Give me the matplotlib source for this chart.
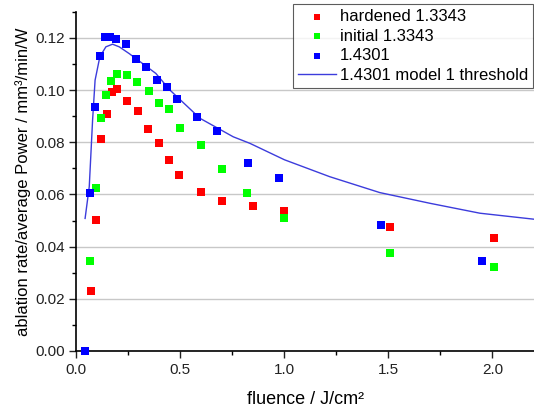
import matplotlib
matplotlib.use('Agg')
import matplotlib.pyplot as plt
from matplotlib.ticker import MultipleLocator

plt.rcParams['font.family'] = ['Liberation Sans', 'DejaVu Sans']

# hardened 1.3343
hard_x = [0.068, 0.094, 0.117, 0.145, 0.171, 0.193, 0.244, 0.296, 0.344, 0.398,
          0.446, 0.494, 0.60, 0.70, 0.85, 1.0, 1.507, 2.01]
hard_y = [0.0229, 0.0502, 0.0813, 0.0909, 0.0992, 0.1006, 0.0960, 0.0921, 0.0849, 0.0798,
          0.0732, 0.0676, 0.0609, 0.0576, 0.0556, 0.0536, 0.0476, 0.0433]

# initial 1.3343
init_x = [0.065, 0.094, 0.118, 0.142, 0.166, 0.193, 0.244, 0.292, 0.347, 0.395,
          0.446, 0.498, 0.60, 0.70, 0.818, 1.0, 1.507, 2.01]
init_y = [0.0345, 0.0623, 0.0894, 0.0982, 0.1033, 0.1061, 0.1057, 0.1031, 0.0996, 0.0950,
          0.0927, 0.0853, 0.0790, 0.0696, 0.0607, 0.0508, 0.0375, 0.0323]

# 1.4301
st_x = [0.042, 0.065, 0.089, 0.113, 0.139, 0.161, 0.19, 0.238, 0.286, 0.334,
        0.386, 0.434, 0.482, 0.581, 0.677, 0.825, 0.975, 1.464, 1.95]
st_y = [0.0, 0.0607, 0.0935, 0.1131, 0.1202, 0.1204, 0.1195, 0.1176, 0.1120, 0.1089,
        0.1038, 0.1013, 0.0964, 0.0895, 0.0842, 0.0719, 0.0662, 0.0483, 0.0345]

# 1.4301 model 1 threshold
mod_x = [0.042, 0.062, 0.07, 0.078, 0.09, 0.113, 0.142, 0.174, 0.206, 0.254, 0.318,
         0.382, 0.45, 0.594, 0.754, 0.834, 1.0, 1.218, 1.459, 1.7, 1.94, 2.2]
mod_y = [0.0508, 0.0630, 0.0757, 0.0885, 0.1038, 0.1128, 0.1166, 0.1176, 0.1166, 0.1140, 0.1102,
         0.1064, 0.1000, 0.0892, 0.0821, 0.0796, 0.0733, 0.0668, 0.0607, 0.0566, 0.0528, 0.0505]

fig = plt.figure(figsize=(5.34, 4.09), dpi=100)
ax = fig.add_axes([0.143, 0.142, 0.857, 0.829])

ax.grid(axis='y', color='#c8c8c8', linewidth=1.0)
ax.set_axisbelow(True)

ax.scatter(hard_x, hard_y, marker='s', s=36, color='#ff0000', linewidths=0, label='hardened 1.3343', zorder=3, clip_on=False)
ax.scatter(init_x, init_y, marker='s', s=36, color='#00ff00', linewidths=0, label='initial 1.3343', zorder=3, clip_on=False)
ax.scatter(st_x, st_y, marker='s', s=36, color='#0000ff', linewidths=0, label='1.4301', zorder=3, clip_on=False)
ax.plot(mod_x, mod_y, color='#3c3cdc', linewidth=1.0, label='1.4301 model 1 threshold', zorder=2)

ax.set_xlim(0, 2.2)
ax.set_ylim(0, 0.13)
ax.xaxis.set_major_locator(MultipleLocator(0.5))
ax.xaxis.set_minor_locator(MultipleLocator(0.25))
ax.yaxis.set_major_locator(MultipleLocator(0.02))
ax.yaxis.set_minor_locator(MultipleLocator(0.01))
ax.xaxis.set_major_formatter(matplotlib.ticker.FormatStrFormatter('%.1f'))
ax.yaxis.set_major_formatter(matplotlib.ticker.FormatStrFormatter('%.2f'))
ax.tick_params(which='major', length=5, width=1, labelsize=11, colors='#222222')
ax.tick_params(which='minor', length=3, width=1)

for s in ['top', 'right']:
    ax.spines[s].set_visible(False)
for s in ['left', 'bottom']:
    ax.spines[s].set_linewidth(1.2)

ax.set_xlabel('fluence / J/cm²', fontsize=13, labelpad=10)
ax.set_ylabel('ablation rate/average Power / mm³/min/W', fontsize=12, labelpad=3)

leg = ax.legend(loc='upper right', bbox_to_anchor=(0.999, 0.99), bbox_transform=fig.transFigure,
                fontsize=12, frameon=True, fancybox=False, edgecolor='#333333',
                borderpad=0.3, labelspacing=0.28, handlelength=2.3, handletextpad=0.25,
                markerscale=0.8, borderaxespad=0)
leg.get_frame().set_linewidth(0.8)

fig.savefig('out.png', dpi=100)
